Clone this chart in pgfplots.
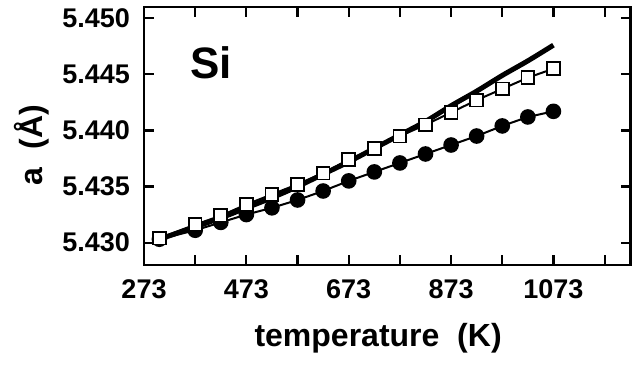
\documentclass[border=0pt]{standalone}
\usepackage{fontspec}
\setmainfont{Liberation Sans}
\usepackage{pgfplots}
\pgfplotsset{compat=1.18}
\usetikzlibrary{calc}
\begin{document}
\begin{tikzpicture}
\begin{axis}[
  name=ax,
  scale only axis,
  width=243.3pt, height=129pt,
  xmin=273, xmax=1224,
  ymin=5.428, ymax=5.451,
  axis line style={line width=1.3pt},
  every tick/.style={black, line width=1.1pt},
  tick align=inside,
  major tick length=5pt,
  xtick={273,373,473,573,673,773,873,973,1073,1173},
  xticklabels={273,,473,,673,,873,,1073,},
  ytick={5.430,5.435,5.440,5.445,5.450},
  yticklabels={5.430,5.435,5.440,5.445,5.450},
  ticklabel style={font=\fontsize{13.5}{15}\selectfont\bfseries},
  yticklabel style={xshift=-3.5pt},
  xticklabel style={yshift=-4pt},
  xlabel={temperature\ \ (K)},
  ylabel={a\ \ (Å)},
  label style={font=\fontsize{16}{18}\selectfont\bfseries},
  xlabel style={at={(axis description cs:0.481,0)}, anchor=center, yshift=-36.5pt},
  ylabel style={at={(axis description cs:0,0.465)}, anchor=center, yshift=56pt},
  clip=false,
]
% filled circles
\addplot[black, line width=1pt, mark=*, mark size=3.4pt, mark options={fill=black}] coordinates {
(303,5.4303) (373,5.4311) (423,5.4318) (473,5.4325) (523,5.4331) (573,5.4338)
(623,5.4346) (673,5.4355) (723,5.4363) (773,5.4371) (823,5.4379) (873,5.4387)
(923,5.4395) (973,5.4404) (1023,5.4412) (1073,5.4417)};
% thick smooth line
\addplot[black, line width=2.5pt, smooth, no marks] coordinates {
(303,5.4303) (373,5.4314) (423,5.4322) (473,5.4331) (523,5.4340) (573,5.4350)
(623,5.4361) (673,5.4372) (723,5.4384) (773,5.4396) (823,5.4408) (873,5.4422)
(923,5.4435) (973,5.4449) (1023,5.4462) (1073,5.4476)};
% open squares
\addplot[black, line width=1pt, mark=square*, mark size=3.2pt, mark options={fill=white, line width=0.9pt}] coordinates {
(303,5.4304) (373,5.4316) (423,5.4324) (473,5.4334) (523,5.4343) (573,5.4352)
(623,5.4362) (673,5.4374) (723,5.4384) (773,5.4395) (823,5.4405) (873,5.4416)
(923,5.4427) (973,5.4437) (1023,5.4447) (1073,5.4455)};
\node[font=\fontsize{22}{24}\selectfont\bfseries] at (axis cs:404,5.446) {Si};
\end{axis}
\pgfresetboundingbox
\path ($(ax.south west)+(-72pt,-56pt)$) rectangle ($(ax.north east)+(4.65pt,3.5pt)$);
\end{tikzpicture}
\end{document}
